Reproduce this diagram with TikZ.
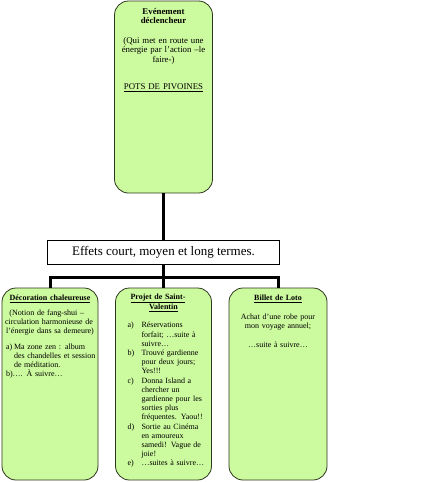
\documentclass[tikz,border=0pt]{standalone}
\usepackage{fontspec}
\setmainfont{Liberation Serif}
\definecolor{boxfill}{RGB}{204,250,158}
\definecolor{boxline}{RGB}{45,55,30}
\newcommand\listitem[4]{\par\hangindent=#2\hangafter=1\noindent\hspace*{#3}\makebox[\dimexpr#2-#3\relax][l]{#1}#4\par}
\begin{document}
\begin{tikzpicture}[x=1pt,y=-1pt,
  box/.style={draw=boxline, line width=0.8pt, fill=boxfill, rounded corners=14pt, inner sep=0pt},
  conn/.style={line width=3pt, black},
  txt/.style={inner sep=0pt, anchor=north, font=\fontsize{8}{9.2}\selectfont},
  labelbox/.style={draw=black, fill=white, line width=0.8pt, inner sep=0pt, font=\fontsize{13}{15}\selectfont}]
\useasboundingbox (0,0) rectangle (443,482);

% boxes
\node[box, minimum width=98pt, minimum height=192pt] (topbox) at (163.5,97) {};
\node[labelbox, minimum width=232pt, minimum height=24pt] (effets) at (163.5,252) {Effets court, moyen et long termes.};
\node[box, minimum width=96pt, minimum height=192pt] (leftbox) at (50,384) {};
\node[box, minimum width=96pt, minimum height=192pt] (midbox) at (163.5,384) {};
\node[box, minimum width=98pt, minimum height=192pt] (rightbox) at (278,384) {};

% connectors
\coordinate (bus) at (163.5,277);
\draw[conn] (topbox.south) -- (effets.north);
\draw[conn] (effets.south) -- (bus);
\draw[conn] (leftbox.north) |- (bus) -| (rightbox.north);
\draw[conn] (bus) -- (midbox.north);

% top text
\node[txt, text width=94pt, align=center, font=\fontsize{8.8}{9.4}\selectfont] (toptxt) at ([yshift=-7.5pt]topbox.north)
 {\textbf{Evénement}\\ \textbf{déclencheur}\\[10pt]
  (Qui met en route une\\ énergie par l'action –le\\ faire-)\\[18pt]
  \underline{POTS DE PIVOINES}};

% left text
\node[txt, text width=94pt] (lefttxt) at ([yshift=-7pt]leftbox.north)
 {{\centering\textbf{\underline{Décoration chaleureuse}}\par}
  \vspace{6pt}
  {\centering (Notion de fang-shui –\newline circulation harmonieuse de\newline l'énergie dans sa demeure)\par}
  \vspace{6pt}
  \listitem{a)}{11pt}{3pt}{Ma zone zen : album\newline des chandelles et session\newline de méditation.}
  \noindent\hspace*{3pt}b)…. À suivre…\par};

% middle text
\node[txt, text width=88pt] (midtxt) at ([yshift=-6pt]midbox.north)
 {{\centering\textbf{\underline{Projet de Saint-}}\newline \textbf{\underline{Valentin}}\par}
  \vspace{9pt}
  \listitem{a)}{22pt}{8pt}{Réservations\newline forfait; …suite à\linebreak suivre…}
  \listitem{b)}{22pt}{8pt}{Trouvé gardienne\linebreak pour deux jours;\linebreak Yes!!!}
  \listitem{c)}{22pt}{8pt}{Donna Island a\newline chercher un\newline gardienne pour les\newline sorties plus\newline fréquentes. Yaou!!}
  \listitem{d)}{22pt}{8pt}{Sortie au Cinéma\newline en amoureux\newline samedi! Vague de\newline joie!}
  \listitem{e)}{22pt}{8pt}{…suites à suivre…}};

% right text
\node[txt, text width=90pt, align=center] (righttxt) at ([yshift=-7pt]rightbox.north)
 {\textbf{\underline{Billet de Loto}}\\[10pt]
  Achat d'une robe pour\\ mon voyage annuel;\\[10pt]
  …suite à suivre…};
\end{tikzpicture}
\end{document}
